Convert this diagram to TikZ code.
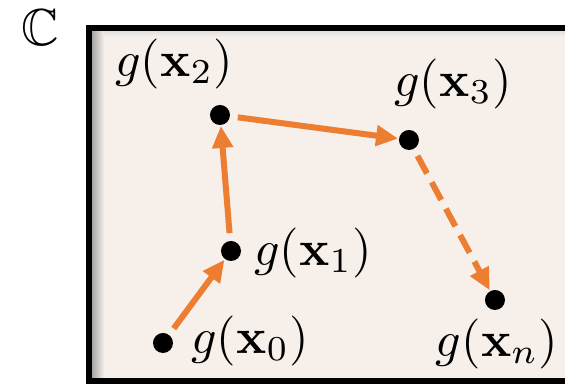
\documentclass[tikz,border=0pt]{standalone}
\usepackage{amsmath,amssymb}
\usetikzlibrary{arrows.meta}
\definecolor{orng}{HTML}{ED7D31}
\definecolor{pap}{HTML}{F6EFEA}
\tikzset{pt/.style={circle,fill=black,minimum size=4pt,inner sep=0pt},lb/.style={inner sep=0pt,font=\fontsize{10.4}{12}\selectfont},arr/.style={orng,line width=1.2pt,-{Triangle[length=4.4pt,width=4pt]},shorten <=1.4pt}}

\begin{document}
\begin{tikzpicture}[x=0.2pt,y=-0.2pt]
\useasboundingbox(0,0)rectangle(565,384);\clip(0,0)rectangle(565,384);
\fill[pap](89,28)rectangle(600,381);
\shade[left color=black!35,right color=pap](92,31)rectangle(104,378);
\shade[top color=black!12,bottom color=pap](104,31)rectangle(600,37);
\draw[line width=1.2pt](600,28)--(89,28)--(89,381)--(600,381);
\node[lb](C)at(40,28){$\mathbb{C}$};
\node[pt](p0)at(163,343){};\node[pt](p1)at(231,251){};\node[pt](p2)at(220,115){};
\node[pt](p3)at(409,140){};\node[pt](pn)at(495,300){};
\node[lb](l0)at(250,341){$g(\mathbf{x}_0)$};\node[lb](l1)at(313,253){$g(\mathbf{x}_1)$};
\node[lb](l2)at(174,64){$g(\mathbf{x}_2)$};\node[lb](l3)at(453,84){$g(\mathbf{x}_3)$};
\node[lb](ln)at(497,344){$g(\mathbf{x}_n)$};
\foreach\a/\b in{p0/p1,p1/p2,p2/p3}\draw[arr](\a)--(\b);
\draw[arr,dash pattern=on 4pt off 2pt](p3)--(pn);
\end{tikzpicture}
\end{document}
